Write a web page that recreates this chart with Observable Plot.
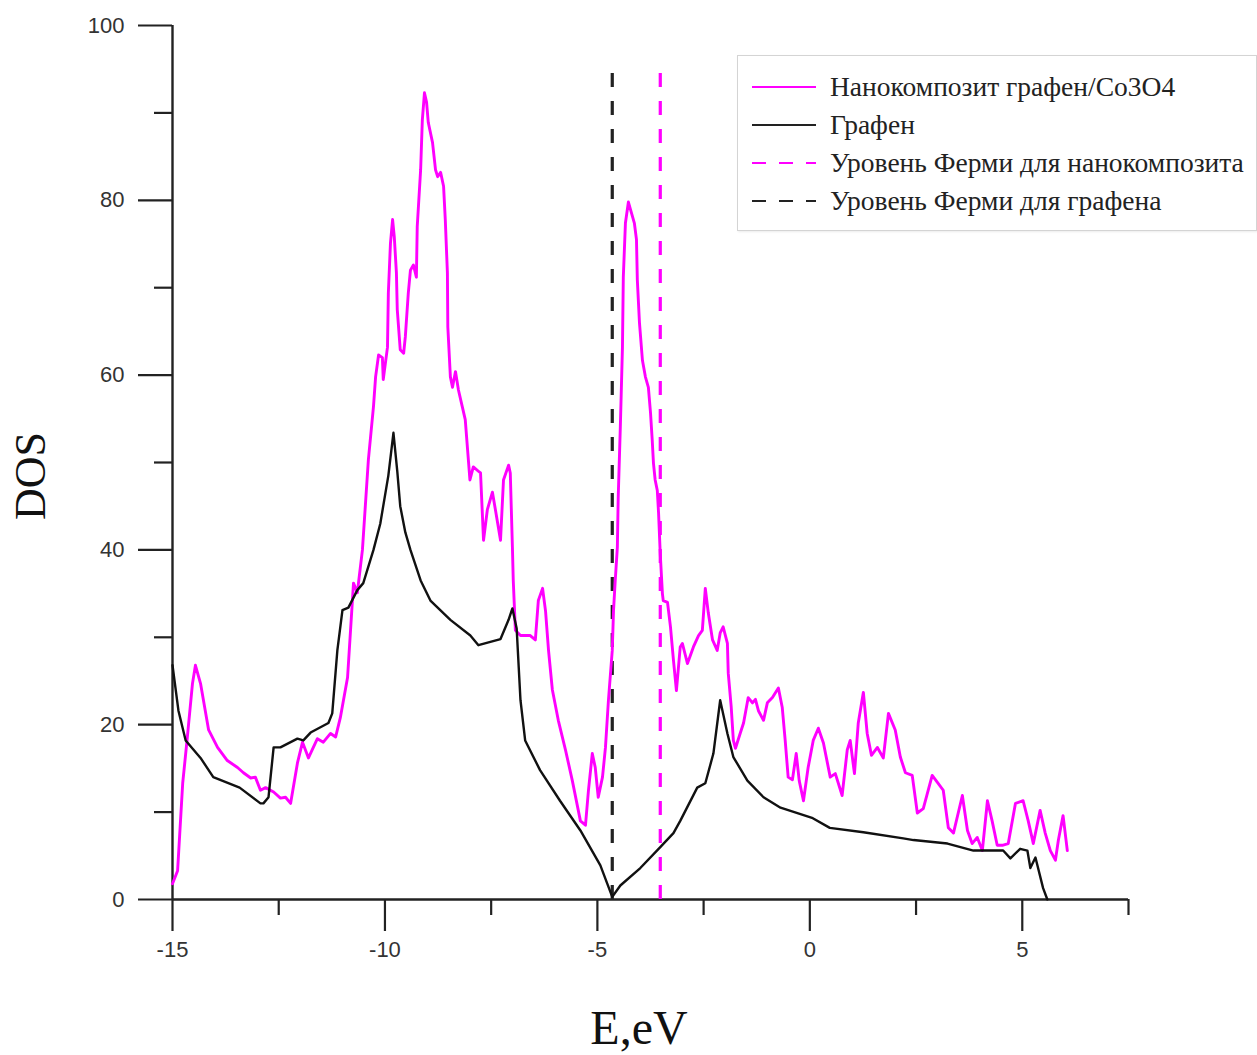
<!DOCTYPE html>
<html>
<head>
<meta charset="utf-8">
<script src="https://cdn.jsdelivr.net/npm/d3@7"></script>
<script src="https://cdn.jsdelivr.net/npm/@observablehq/plot@0.6"></script>
<style>
  body { margin: 0; background: #fff; }
  #wrap { position: relative; width: 1257px; height: 1055px; overflow: hidden; }
  .lbl { position: absolute; font-family: "Liberation Serif", "DejaVu Serif", serif; color: #111; white-space: nowrap; line-height: 1; }
  #legend { position: absolute; left: 737px; top: 55px; width: 518px; height: 174px; border: 1.5px solid #d4d4d4; background: #fff; box-shadow: 1px 1px 2px rgba(0,0,0,0.08); }
  .row { position: absolute; left: 0; height: 30px; width: 100%; }
  .row svg { position: absolute; left: 14px; top: 12px; }
  .row span { position: absolute; left: 92px; top: 0; line-height: 30px; font-family: "Liberation Serif", serif; font-size: 27.5px; color: #222; white-space: nowrap; }
</style>
</head>
<body>
<div id="wrap"></div>
<script>
// Нанокомпозит графен/Co3O4 (magenta)
const nanoE = [-15.00,-14.88,-14.76,-14.65,-14.53,-14.46,-14.34,-14.15,-13.94,-13.71,-13.47,-13.33,-13.16,-13.05,-12.93,-12.81,-12.62,-12.46,-12.34,-12.22,-12.06,-11.94,-11.80,-11.59,-11.45,-11.28,-11.16,-11.05,-10.88,-10.74,-10.65,-10.53,-10.39,-10.27,-10.22,-10.15,-10.06,-10.04,-9.94,-9.92,-9.87,-9.82,-9.78,-9.73,-9.71,-9.64,-9.56,-9.52,-9.45,-9.40,-9.33,-9.26,-9.24,-9.16,-9.12,-9.07,-9.02,-8.98,-8.88,-8.81,-8.76,-8.69,-8.62,-8.58,-8.53,-8.52,-8.46,-8.41,-8.34,-8.27,-8.18,-8.11,-8.00,-7.92,-7.80,-7.75,-7.68,-7.59,-7.47,-7.40,-7.28,-7.21,-7.09,-7.05,-7.00,-6.98,-6.93,-6.81,-6.58,-6.46,-6.39,-6.29,-6.22,-6.15,-6.06,-5.92,-5.75,-5.59,-5.40,-5.28,-5.21,-5.12,-5.05,-4.98,-4.88,-4.81,-4.74,-4.65,-4.62,-4.58,-4.53,-4.51,-4.46,-4.41,-4.39,-4.34,-4.27,-4.20,-4.13,-4.08,-4.06,-4.01,-3.94,-3.87,-3.80,-3.75,-3.71,-3.68,-3.64,-3.59,-3.56,-3.52,-3.47,-3.45,-3.35,-3.28,-3.21,-3.14,-3.05,-3.00,-2.88,-2.74,-2.62,-2.53,-2.46,-2.39,-2.29,-2.18,-2.11,-2.04,-1.94,-1.92,-1.85,-1.80,-1.75,-1.64,-1.56,-1.45,-1.35,-1.28,-1.21,-1.09,-1.00,-0.88,-0.74,-0.65,-0.58,-0.51,-0.41,-0.32,-0.25,-0.15,-0.04,0.08,0.20,0.32,0.48,0.60,0.76,0.88,0.95,1.05,1.14,1.26,1.35,1.45,1.59,1.73,1.85,2.01,2.13,2.25,2.41,2.53,2.67,2.88,3.02,3.14,3.26,3.38,3.59,3.71,3.82,3.94,4.06,4.18,4.29,4.41,4.53,4.67,4.84,5.02,5.14,5.26,5.42,5.54,5.66,5.78,5.85,5.96,6.06];
const nanoDOS = [1.8,3.3,13.3,18.6,24.7,26.8,24.7,19.4,17.4,15.9,15.1,14.5,13.9,14.0,12.5,12.8,12.3,11.6,11.7,11.0,15.6,18.0,16.2,18.4,18.0,19.0,18.6,20.8,25.4,36.2,35.1,40.0,50.3,56.4,59.8,62.3,62.0,59.5,63.2,69.4,75.1,77.8,75.8,71.7,67.5,62.9,62.5,64.4,69.4,72.0,72.6,71.2,77.0,83.5,89.2,92.3,91.2,88.9,86.6,83.5,82.7,83.2,81.6,77.8,71.7,65.5,59.8,58.6,60.4,58.3,56.4,54.9,48.0,49.5,49.0,48.8,41.1,44.6,46.6,44.6,41.1,48.0,49.7,48.8,40.3,36.5,30.8,30.2,30.2,29.7,34.2,35.6,33.0,28.5,24.0,20.5,17.1,13.6,9.0,8.5,12.5,16.7,15.1,11.7,14.0,17.4,22.8,28.5,33.1,36.5,40.3,46.0,54.1,63.2,71.2,77.4,79.8,78.6,77.4,75.5,70.9,66.0,61.7,59.8,58.6,55.7,52.6,49.9,48.0,46.8,44.2,39.5,35.0,34.2,34.0,31.2,27.4,23.9,28.9,29.3,27.0,28.9,30.2,30.8,35.6,32.8,29.7,28.5,30.5,31.2,29.3,25.9,22.0,18.2,17.3,19.0,20.2,23.1,22.5,22.9,21.6,20.5,22.5,23.1,24.2,22.0,18.2,14.0,13.7,16.7,13.6,11.3,15.1,18.2,19.6,17.9,14.0,14.4,11.9,17.1,18.2,14.4,20.2,23.7,19.0,16.5,17.4,16.2,21.3,19.4,16.3,14.5,14.2,9.9,10.4,14.2,13.3,12.5,8.2,7.6,11.9,7.9,6.4,7.1,5.6,11.3,9.0,6.2,6.2,6.4,11.0,11.3,9.0,6.4,10.2,7.6,5.6,4.5,6.8,9.6,5.6];

// Графен (black)
const grE = [-15.00,-14.86,-14.69,-14.34,-14.04,-13.42,-12.93,-12.86,-12.74,-12.62,-12.46,-12.06,-11.92,-11.75,-11.33,-11.24,-11.12,-11.00,-10.86,-10.65,-10.51,-10.27,-10.11,-9.92,-9.80,-9.71,-9.64,-9.52,-9.40,-9.16,-8.93,-8.46,-7.99,-7.80,-7.28,-7.09,-7.00,-6.90,-6.81,-6.70,-6.35,-5.88,-5.40,-4.93,-4.65,-4.46,-3.99,-3.52,-3.21,-3.05,-2.65,-2.46,-2.27,-2.11,-1.94,-1.80,-1.47,-1.09,-0.69,0.07,0.47,1.26,2.20,2.44,3.24,3.85,4.55,4.72,4.95,5.12,5.19,5.31,5.49,5.59];
const grDOS = [26.8,21.6,18.2,16.2,14.0,12.8,11.0,11.0,11.7,17.4,17.4,18.4,18.2,19.1,20.2,21.3,28.5,33.1,33.4,35.4,36.2,40.0,43.0,48.5,53.4,49.0,45.0,42.0,40.0,36.5,34.2,32.0,30.2,29.1,29.8,32.0,33.3,31.0,22.8,18.2,14.8,11.3,7.9,3.9,0.3,1.6,3.6,6.0,7.6,9.0,12.8,13.3,16.7,22.8,19.0,16.3,13.6,11.7,10.5,9.3,8.2,7.7,7.0,6.8,6.4,5.6,5.6,4.7,5.8,5.6,3.6,4.8,1.3,0];

// Fermi levels
const fermiGraphene = -4.65;
const fermiNano = -3.52;
const fermiTop = 95;

const xMajor = [-15, -10, -5, 0, 5];
const xMinor = [-12.5, -7.5, -2.5, 2.5, 7.5];
const yMajor = [0, 20, 40, 60, 80, 100];
const yMinor = [10, 30, 50, 70, 90];

const legendItems = [
  {label: "Нанокомпозит графен/Co3O4", color: "#ff00ff", dash: null},
  {label: "Графен", color: "#222", dash: null},
  {label: "Уровень Ферми для нанокомпозита", color: "#ff00ff", dash: "14,13"},
  {label: "Уровень Ферми для графена", color: "#222", dash: "14,13"}
];

const nano = nanoE.map((e, i) => ({E: e, DOS: nanoDOS[i]}));
const gr = grE.map((e, i) => ({E: e, DOS: grDOS[i]}));

const axisColor = "#222";
const chart = Plot.plot({
  width: 1257,
  height: 1055,
  marginLeft: 172,
  marginRight: 129,
  marginTop: 25,
  marginBottom: 156,
  style: {fontFamily: "'Liberation Sans', Arial, sans-serif", fontSize: "22px", color: "#333", background: "#fff"},
  x: {domain: [-15, 7.5]},
  y: {domain: [0, 100]},
  marks: [
    Plot.axisX(xMajor, {tickSize: 32, tickPadding: 10, strokeWidth: 2.2, stroke: axisColor, fill: "#333", fontSize: 22, label: null, tickFormat: d => String(d)}),
    Plot.axisX(xMinor, {tickSize: 16, strokeWidth: 2.2, stroke: axisColor, tickFormat: () => "", label: null}),
    Plot.axisY(yMajor, {tickSize: 34, tickPadding: 14, strokeWidth: 2.2, stroke: axisColor, fill: "#333", fontSize: 22, label: null, tickFormat: d => String(d)}),
    Plot.axisY(yMinor, {tickSize: 18, strokeWidth: 2.2, stroke: axisColor, tickFormat: () => "", label: null}),
    Plot.ruleY([0], {x1: -15, x2: 7.5, stroke: axisColor, strokeWidth: 2.4}),
    Plot.ruleX([-15], {y1: 0, y2: 100, stroke: axisColor, strokeWidth: 2.4}),
    Plot.ruleX([fermiGraphene], {y1: 0, y2: fermiTop, stroke: "#222", strokeWidth: 3.2, strokeDasharray: "14,14"}),
    Plot.ruleX([fermiNano], {y1: 0, y2: fermiTop, stroke: "#ff00ff", strokeWidth: 3.2, strokeDasharray: "14,14"}),
    Plot.line(nano, {x: "E", y: "DOS", stroke: "#ff00ff", strokeWidth: 2.9}),
    Plot.line(gr, {x: "E", y: "DOS", stroke: "#111", strokeWidth: 2.4})
  ]
});

const wrap = document.getElementById("wrap");
wrap.appendChild(chart);

// axis titles
const yl = document.createElement("div");
yl.className = "lbl";
yl.textContent = "DOS";
yl.style.cssText += "font-size:44px; left:31px; top:476px; transform: translate(-50%,-50%) rotate(-90deg);";
wrap.appendChild(yl);

const xl = document.createElement("div");
xl.className = "lbl";
xl.textContent = "E,eV";
xl.style.cssText += "font-size:48px; left:639px; top:1028px; transform: translate(-50%,-50%);";
wrap.appendChild(xl);

// legend
const lg = document.createElement("div");
lg.id = "legend";
const rowCenters = [86, 124, 162, 200];
legendItems.forEach((it, i) => {
  const row = document.createElement("div");
  row.className = "row";
  row.style.top = (rowCenters[i] - 55 - 15) + "px";
  row.innerHTML = `<svg width="64" height="6"><line x1="0" y1="3" x2="64" y2="3" stroke="${it.color}" stroke-width="2.2" ${it.dash ? `stroke-dasharray="${it.dash}"` : ""}/></svg><span>${it.label}</span>`;
  lg.appendChild(row);
});
wrap.appendChild(lg);
</script>
</body>
</html>
